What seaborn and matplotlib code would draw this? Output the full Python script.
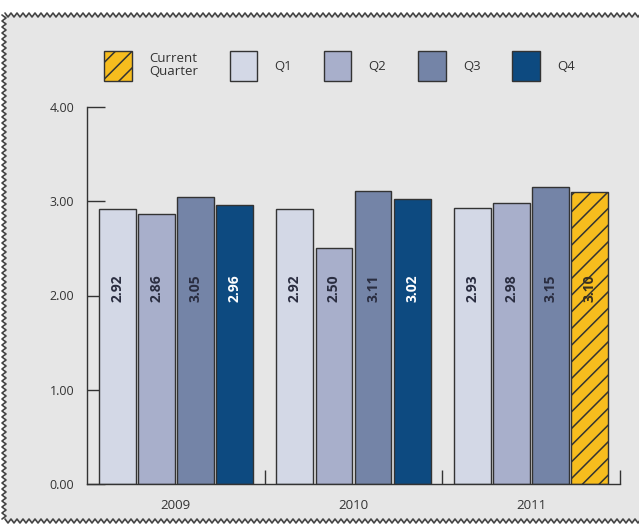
import numpy as np
import pandas as pd
import matplotlib
matplotlib.use("Agg")
import matplotlib.pyplot as plt
from matplotlib.patches import Patch, Rectangle
from matplotlib.lines import Line2D
import seaborn as sns

# Data
years = ["2009", "2010", "2011"]
quarters = ["Q1", "Q2", "Q3", "Q4"]
q1_values = [2.92, 2.92, 2.93]
q2_values = [2.86, 2.50, 2.98]
q3_values = [3.05, 3.11, 3.15]
q4_values = [2.96, 3.02, 3.10]
current_year, current_quarter = "2011", "Q4"
y_ticks = [0, 1, 2, 3, 4]

colors = {"Q1": "#d3d8e6", "Q2": "#a8afcb", "Q3": "#7484a7", "Q4": "#0d4a80"}
current_color = "#f7bd1e"
label_colors = {"Q1": "#2a2d40", "Q2": "#2a2d40", "Q3": "#2a2d40", "Q4": "white"}
bg_color = "#e6e6e6"
ink = "#333333"

df = pd.DataFrame({
    "year": np.repeat(years, len(quarters)),
    "quarter": quarters * len(years),
    "value": [v for trio in zip(q1_values, q2_values, q3_values, q4_values) for v in trio],
})

sns.set_theme(style="white")
plt.rcParams["font.family"] = ["Open Sans", "DejaVu Sans"]
plt.rcParams["hatch.linewidth"] = 1.1
plt.rcParams["hatch.color"] = "#5a4510"

W, H = 639, 529
fig = plt.figure(figsize=(W / 100, H / 100), dpi=100)
fig.patch.set_facecolor("white")

# Grey panel with a zigzag frame
fig.add_artist(Rectangle((5 / W, (H - 521) / H), 1, (521 - 15) / H,
                         transform=fig.transFigure, facecolor=bg_color,
                         edgecolor="none", zorder=0))

def zig(start, stop, base, step=3.0, amp=2.0):
    t = np.arange(start, stop, step)
    off = np.where(np.arange(len(t)) % 2 == 0, -amp, amp)
    return t, base + off

tx, ty = zig(5, W + 4, 15)
fig.add_artist(Line2D(tx / W, 1 - ty / H, transform=fig.transFigure, color="#444444", lw=1.2))
bx, by = zig(5, W + 4, 521)
fig.add_artist(Line2D(bx / W, 1 - by / H, transform=fig.transFigure, color="#444444", lw=1.2))
ly, lx = zig(15, 522, 4)
fig.add_artist(Line2D(lx / W, 1 - ly / H, transform=fig.transFigure, color="#444444", lw=1.2))

ax = fig.add_axes([87 / W, (H - 484) / H, 533 / W, 377 / H])
ax.set_facecolor("none")

sns.barplot(data=df, x="year", y="value", hue="quarter", order=years,
            hue_order=quarters, palette=colors, saturation=1, width=0.88,
            gap=0.06, edgecolor=ink, linewidth=1.0, legend=False, ax=ax)

# Value labels inside each bar; highlight the current quarter
for q, container in zip(quarters, ax.containers):
    for yr, bar in zip(years, container):
        val = bar.get_height()
        col = label_colors[q]
        if yr == current_year and q == current_quarter:
            bar.set_facecolor(current_color)
            bar.set_hatch("//")
            col = "#3a3020"
        ax.text(bar.get_x() + bar.get_width() / 2, 2.08, f"{val:.2f}",
                rotation=90, ha="center", va="center", fontsize=10,
                fontweight="bold", color=col)

ax.set_xlim(-0.5, 2.5)
ax.set_ylim(0, 4)
ax.set_xlabel("")
ax.set_ylabel("")
ax.set_yticks(y_ticks)
ax.set_yticklabels([f"{v:.2f}" for v in y_ticks])
ax.set_xticks([0.5, 1.5, 2.5], minor=True)

for side in ["top", "right"]:
    ax.spines[side].set_visible(False)
for side in ["left", "bottom"]:
    ax.spines[side].set_color(ink)
    ax.spines[side].set_linewidth(1.0)

ax.tick_params(axis="y", which="major", left=True, direction="in", length=13,
               width=1.0, color=ink, pad=9, labelsize=9, labelcolor=ink)
ax.tick_params(axis="x", which="major", bottom=True, length=0, pad=11,
               labelsize=9.5, labelcolor=ink)
ax.tick_params(axis="x", which="minor", bottom=True, direction="in", length=10,
               width=1.0, color=ink)

handles = [Patch(facecolor=current_color, edgecolor=ink, hatch="//", label="Current\nQuarter")]
handles += [Patch(facecolor=colors[q], edgecolor=ink, label=q) for q in quarters]
leg = fig.legend(handles=handles, loc="center left", bbox_to_anchor=(104 / W, 1 - 66 / H),
                 ncol=5, frameon=False, handlelength=2.1, handleheight=3.1,
                 handletextpad=1.3, columnspacing=2.4, fontsize=9.5, borderpad=0,
                 borderaxespad=0, labelcolor=ink, labelspacing=0.2)
for t in leg.get_texts():
    t.set_linespacing(1.05)

fig.savefig("out.png", dpi=100, facecolor=fig.get_facecolor())
